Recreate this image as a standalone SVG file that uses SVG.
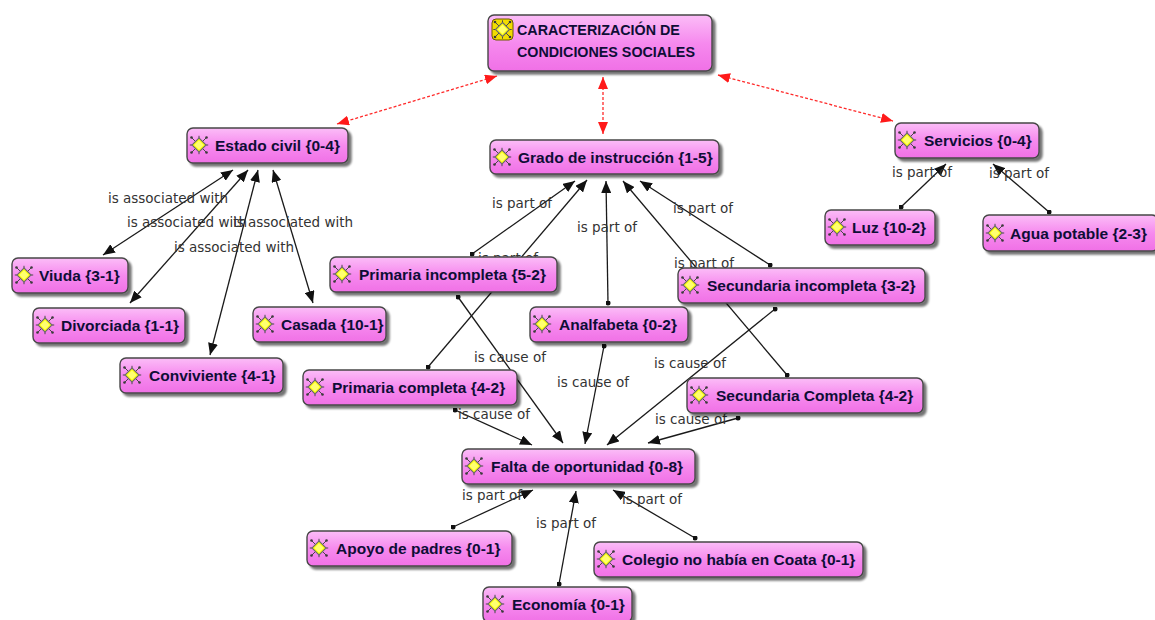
<svg xmlns="http://www.w3.org/2000/svg" width="1155" height="620" viewBox="0 0 1155 620">
<style>
.box{fill:url(#pk);stroke:#474747;stroke-width:1.4;filter:url(#sh)}
.t{font-family:"Liberation Sans",Arial,sans-serif;font-weight:bold;font-size:15.5px;fill:#0e0e36}
.tt{font-family:"Liberation Sans",Arial,sans-serif;font-weight:bold;font-size:14.3px;fill:#0e0e36}
.lb{font-family:"DejaVu Sans",sans-serif;font-size:13.5px;fill:#333333;text-anchor:middle}
.e{fill:none;stroke:#1a1a1a;stroke-width:1.3}
.pe{marker-start:url(#dot);marker-end:url(#ah)}
.be{marker-start:url(#ah);marker-end:url(#ah)}
.re{fill:none;stroke:#ff2a2a;stroke-width:1.3;stroke-dasharray:3 2;marker-start:url(#ahr);marker-end:url(#ahr)}
</style>
<defs>
<linearGradient id="pk" x1="0" y1="0" x2="0" y2="1">
<stop offset="0" stop-color="#fbbdf7"/>
<stop offset="0.5" stop-color="#f68aee"/>
<stop offset="1" stop-color="#f070e6"/>
</linearGradient>
<filter id="sh" x="-10%" y="-20%" width="125%" height="160%">
<feGaussianBlur in="SourceAlpha" stdDeviation="1.3"/>
<feOffset dx="3" dy="3" result="b"/>
<feComponentTransfer><feFuncA type="linear" slope="0.55"/></feComponentTransfer>
<feMerge><feMergeNode/><feMergeNode in="SourceGraphic"/></feMerge>
</filter>
<marker id="ah" viewBox="0 0 12 10" refX="12" refY="5" markerWidth="12" markerHeight="10" markerUnits="userSpaceOnUse" orient="auto-start-reverse">
<path d="M0,0 L12,5 L0,10 z" fill="#111"/>
</marker>
<marker id="ahr" viewBox="0 0 12 10" refX="12" refY="5" markerWidth="12" markerHeight="10" markerUnits="userSpaceOnUse" orient="auto-start-reverse">
<path d="M0,0 L12,5 L0,10 z" fill="#ff1a1a"/>
</marker>
<marker id="dot" viewBox="0 0 6 6" refX="3" refY="3" markerWidth="5" markerHeight="5" markerUnits="userSpaceOnUse">
<circle cx="3" cy="3" r="3" fill="#111"/>
</marker>
<symbol id="ic" viewBox="0 0 20 20">
<g stroke="#4a4a4a" stroke-width="1" fill="none">
<line x1="6.5" y1="6.5" x2="2.5" y2="2.5"/><line x1="13.5" y1="6.5" x2="17.5" y2="2.5"/>
<line x1="6.5" y1="13.5" x2="2.5" y2="17.5"/><line x1="13.5" y1="13.5" x2="17.5" y2="17.5"/>
<line x1="10" y1="3" x2="10" y2="0.8"/><line x1="10" y1="17" x2="10" y2="19.2"/>
<line x1="3" y1="10" x2="0.8" y2="10"/><line x1="17" y1="10" x2="19.2" y2="10"/>
</g>
<g fill="#3a3a3a"><circle cx="2.5" cy="2.5" r="1.3"/><circle cx="17.5" cy="2.5" r="1.3"/><circle cx="2.5" cy="17.5" r="1.3"/><circle cx="17.5" cy="17.5" r="1.3"/></g>
<polygon points="10,3 17,10 10,17 3,10" fill="#ffff10" stroke="#6a6a6a" stroke-width="1.1"/>
<polygon points="10,5.5 14.5,10 10,14.5 5.5,10" fill="#ffff70"/>
</symbol>
</defs>
<rect width="1155" height="620" fill="#ffffff"/>
<g id="connectors">
<line class="re" x1="497" y1="76" x2="337" y2="124"/>
<line class="re" x1="603" y1="77" x2="603" y2="134"/>
<line class="re" x1="718" y1="75" x2="893" y2="121"/>
<line class="e be" x1="233" y1="170" x2="103" y2="255"/>
<line class="e be" x1="248" y1="170" x2="130" y2="303"/>
<line class="e be" x1="258" y1="170" x2="210" y2="355"/>
<line class="e be" x1="273" y1="170" x2="313" y2="303"/>
<line class="e pe" x1="472" y1="254" x2="575" y2="181"/>
<line class="e pe" x1="428" y1="367" x2="587" y2="180"/>
<line class="e pe" x1="608" y1="303" x2="606" y2="181"/>
<line class="e pe" x1="770" y1="265" x2="640" y2="181"/>
<line class="e pe" x1="787" y1="375" x2="623" y2="181"/>
<line class="e pe" x1="458" y1="297" x2="563" y2="443"/>
<line class="e pe" x1="455" y1="410" x2="532" y2="445"/>
<line class="e pe" x1="604" y1="346" x2="585" y2="444"/>
<line class="e pe" x1="775" y1="309" x2="607" y2="445"/>
<line class="e pe" x1="738" y1="418" x2="648" y2="443"/>
<line class="e pe" x1="453" y1="527" x2="533" y2="490"/>
<line class="e pe" x1="559" y1="584" x2="576" y2="491"/>
<line class="e pe" x1="695" y1="538" x2="613" y2="490"/>
<line class="e pe" x1="901" y1="207" x2="946" y2="164"/>
<line class="e pe" x1="1049" y1="212" x2="993" y2="164"/>
<text class="lb" x="168" y="203">is associated with</text>
<text class="lb" x="187" y="227">is associated with</text>
<text class="lb" x="293" y="227">is associated with</text>
<text class="lb" x="234" y="252">is associated with</text>
<text class="lb" x="522" y="208">is part of</text>
<text class="lb" x="508" y="263">is part of</text>
<text class="lb" x="607" y="232">is part of</text>
<text class="lb" x="703" y="213">is part of</text>
<text class="lb" x="704" y="268">is part of</text>
<text class="lb" x="510" y="362">is cause of</text>
<text class="lb" x="494" y="419">is cause of</text>
<text class="lb" x="593" y="387">is cause of</text>
<text class="lb" x="690" y="368">is cause of</text>
<text class="lb" x="691" y="424">is cause of</text>
<text class="lb" x="492" y="500">is part of</text>
<text class="lb" x="566" y="528">is part of</text>
<text class="lb" x="652" y="504">is part of</text>
<text class="lb" x="922" y="177">is part of</text>
<text class="lb" x="1019" y="178">is part of</text>
</g>
<g id="n-titulo">
<rect class="box" x="488" y="15" width="224" height="56" rx="6"/>
<rect x="492" y="19" width="21" height="21" rx="4" fill="#f2dc00" stroke="#6a5a00" stroke-width="1"/>
<use href="#ic" x="492.5" y="19.5" width="20" height="20"/>
<text class="tt" x="517" y="35">CARACTERIZACIÓN DE</text>
<text class="tt" x="517" y="57">CONDICIONES SOCIALES</text>
</g>
<g id="n-estado">
<rect class="box" x="187" y="128" width="161" height="35" rx="6"/>
<use href="#ic" x="189" y="135" width="20" height="20"/>
<text class="t" x="215" y="151">Estado civil {0-4}</text>
</g>
<g id="n-grado">
<rect class="box" x="490" y="140" width="229" height="34" rx="6"/>
<use href="#ic" x="492" y="147" width="20" height="20"/>
<text class="t" x="518" y="163">Grado de instrucción {1-5}</text>
</g>
<g id="n-servicios">
<rect class="box" x="895" y="123" width="144" height="35" rx="6"/>
<use href="#ic" x="897" y="130" width="20" height="20"/>
<text class="t" x="924" y="146">Servicios {0-4}</text>
</g>
<g id="n-viuda">
<rect class="box" x="12" y="258" width="116" height="35" rx="6"/>
<use href="#ic" x="14" y="265" width="20" height="20"/>
<text class="t" x="39" y="281">Viuda {3-1}</text>
</g>
<g id="n-divorciada">
<rect class="box" x="33" y="308" width="152" height="35" rx="6"/>
<use href="#ic" x="35" y="315" width="20" height="20"/>
<text class="t" x="61" y="331">Divorciada {1-1}</text>
</g>
<g id="n-conviviente">
<rect class="box" x="120" y="358" width="163" height="35" rx="6"/>
<use href="#ic" x="122" y="365" width="20" height="20"/>
<text class="t" x="149" y="381">Conviviente {4-1}</text>
</g>
<g id="n-casada">
<rect class="box" x="253" y="307" width="133" height="35" rx="6"/>
<use href="#ic" x="255" y="314" width="20" height="20"/>
<text class="t" x="281" y="330">Casada {10-1}</text>
</g>
<g id="n-primaria-incompleta">
<rect class="box" x="330" y="257" width="227" height="35" rx="6"/>
<use href="#ic" x="332" y="264" width="20" height="20"/>
<text class="t" x="359" y="280">Primaria incompleta {5-2}</text>
</g>
<g id="n-analfabeta">
<rect class="box" x="530" y="307" width="158" height="35" rx="6"/>
<use href="#ic" x="532" y="314" width="20" height="20"/>
<text class="t" x="559" y="330">Analfabeta {0-2}</text>
</g>
<g id="n-secundaria-incompleta">
<rect class="box" x="678" y="268" width="247" height="35" rx="6"/>
<use href="#ic" x="680" y="275" width="20" height="20"/>
<text class="t" x="707" y="291">Secundaria incompleta {3-2}</text>
</g>
<g id="n-primaria-completa">
<rect class="box" x="303" y="370" width="214" height="35" rx="6"/>
<use href="#ic" x="305" y="377" width="20" height="20"/>
<text class="t" x="332" y="393">Primaria completa {4-2}</text>
</g>
<g id="n-secundaria-completa">
<rect class="box" x="687" y="378" width="236" height="35" rx="6"/>
<use href="#ic" x="689" y="385" width="20" height="20"/>
<text class="t" x="716" y="401">Secundaria Completa {4-2}</text>
</g>
<g id="n-falta">
<rect class="box" x="462" y="449" width="233" height="35" rx="6"/>
<use href="#ic" x="464" y="456" width="20" height="20"/>
<text class="t" x="491" y="472">Falta de oportunidad {0-8}</text>
</g>
<g id="n-apoyo">
<rect class="box" x="307" y="531" width="205" height="35" rx="6"/>
<use href="#ic" x="309" y="538" width="20" height="20"/>
<text class="t" x="336" y="554">Apoyo de padres {0-1}</text>
</g>
<g id="n-economia">
<rect class="box" x="483" y="587" width="149" height="35" rx="6"/>
<use href="#ic" x="485" y="594" width="20" height="20"/>
<text class="t" x="512" y="610">Economía {0-1}</text>
</g>
<g id="n-colegio">
<rect class="box" x="594" y="542" width="269" height="35" rx="6"/>
<use href="#ic" x="596" y="549" width="20" height="20"/>
<text class="t" x="622" y="565">Colegio no había en Coata {0-1}</text>
</g>
<g id="n-luz">
<rect class="box" x="825" y="210" width="110" height="35" rx="6"/>
<use href="#ic" x="827" y="217" width="20" height="20"/>
<text class="t" x="852" y="233">Luz {10-2}</text>
</g>
<g id="n-agua">
<rect class="box" x="983" y="215" width="175" height="36" rx="6"/>
<use href="#ic" x="985" y="223" width="20" height="20"/>
<text class="t" x="1010" y="239">Agua potable {2-3}</text>
</g>
</svg>
